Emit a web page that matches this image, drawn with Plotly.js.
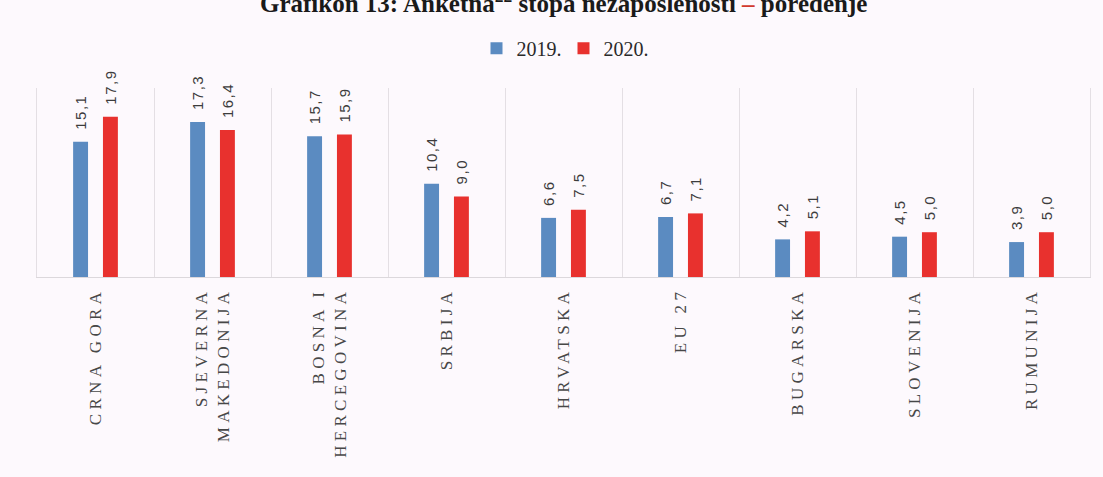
<!DOCTYPE html>
<html>
<head>
<meta charset="utf-8">
<script src="https://cdn.plot.ly/plotly-3.0.1.min.js"></script>
<style>
  html, body { margin: 0; padding: 0; background: #fdf9fd; }
  #chart { width: 1103px; height: 477px; }
  .xtick text { letter-spacing: 4.3px; }
  .annotation-text { letter-spacing: 1.5px; }
</style>
</head>
<body>
<div id="chart"></div>
<script>
const categories = ['CRNA GORA', 'SJEVERNA<br>MAKEDONIJA', 'BOSNA I<br>HERCEGOVINA', 'SRBIJA', 'HRVATSKA', 'EU 27', 'BUGARSKA', 'SLOVENIJA', 'RUMUNIJA'];
const values2019 = [15.1, 17.3, 15.7, 10.4, 6.6, 6.7, 4.2, 4.5, 3.9];
const values2020 = [17.9, 16.4, 15.9, 9.0, 7.5, 7.1, 5.1, 5.0, 5.0];
const seriesNames = ['2019.', '2020.'];
const titleText = 'Grafikon 13: Anketna<sup>22</sup> stopa nezaposlenosti <span style="color:#d23a2e">–</span> poređenje';

const blue = '#5b8bc1';
const red = '#e8312e';

const fmt = v => v.toFixed(1).replace('.', ',');

const traces = [
  { type: 'bar', name: seriesNames[0], x: categories, y: values2019, marker: { color: blue }, hoverinfo: 'y' },
  { type: 'bar', name: seriesNames[1], x: categories, y: values2020, marker: { color: red }, hoverinfo: 'y' }
];

const annotations = [];
[values2019, values2020].forEach((vals, s) => {
  vals.forEach((v, i) => {
    annotations.push({
      x: categories[i], y: v, xref: 'x', yref: 'y',
      xshift: s === 0 ? -15 : 15, yshift: 10,
      text: fmt(v), textangle: -90, showarrow: false,
      xanchor: 'center', yanchor: 'bottom',
      font: { family: 'Liberation Sans, Arial, sans-serif', size: 15, color: '#3c3c3c' }
    });
  });
});

const layout = {
  width: 1103, height: 477,
  paper_bgcolor: '#fdf9fd', plot_bgcolor: 'rgba(0,0,0,0)',
  margin: { l: 37, r: 13, t: 88, b: 200 },
  separators: ', ',
  title: {
    text: titleText,
    x: 0.511, xanchor: 'center',
    y: 0.993, yref: 'container', yanchor: 'middle',
    font: { family: 'Liberation Serif, Times New Roman, serif', size: 25, weight: 'bold', color: '#1a1a1a' }
  },
  barmode: 'group', bargap: 0.49, bargroupgap: 0.5,
  showlegend: true,
  legend: {
    orientation: 'h', x: 0.5, xanchor: 'center', y: 1.21, yanchor: 'middle',
    font: { family: 'Liberation Serif, Times New Roman, serif', size: 20, color: '#2a2a2a' },
    itemwidth: 30, entrywidth: 42, entrywidthmode: 'pixels', bgcolor: 'rgba(0,0,0,0)'
  },
  xaxis: {
    type: 'category', tickson: 'boundaries', showgrid: true, gridcolor: '#e4dfe4', gridwidth: 1,
    showline: true, linecolor: '#dcd8dc', ticks: '', tickangle: -90, ticklabelstandoff: 3,
    tickfont: { family: 'Liberation Serif, Times New Roman, serif', size: 17, color: '#474747' },
    fixedrange: true
  },
  yaxis: {
    range: [0, 21.1], showticklabels: false, showgrid: false, zeroline: false,
    showline: true, mirror: true, linecolor: '#e4dfe4', ticks: '', fixedrange: true
  },
  annotations: annotations
};

Plotly.newPlot('chart', traces, layout, { displayModeBar: false, staticPlot: true });
</script>
</body>
</html>
